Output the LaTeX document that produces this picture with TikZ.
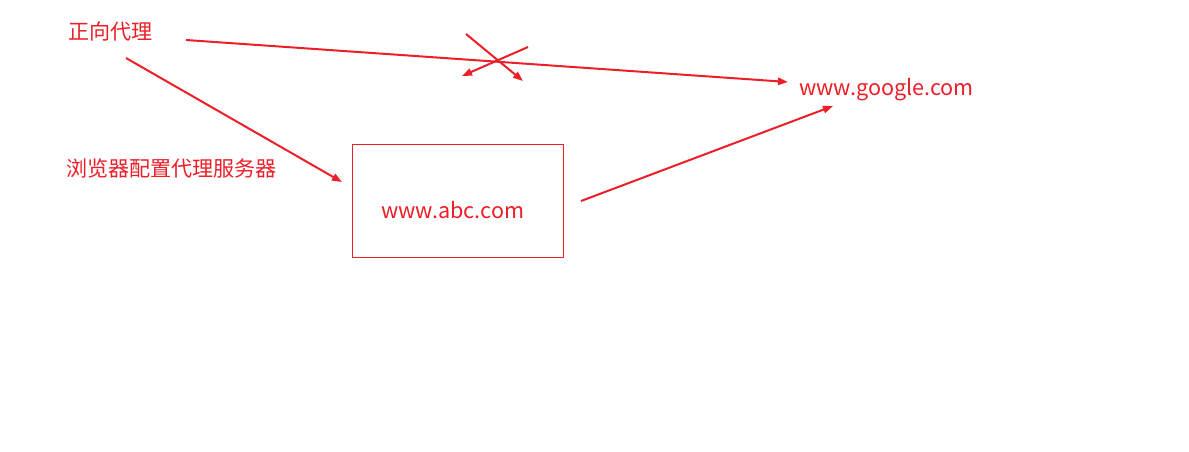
\documentclass[tikz,border=0pt]{standalone}
\usepackage{fontspec}
\setmainfont{Noto Sans CJK SC}
\usetikzlibrary{arrows.meta}
\definecolor{myred}{RGB}{236,30,40}
\begin{document}
\begin{tikzpicture}[x=0.75pt,y=-0.75pt,
  lbl/.style={text=myred,font=\fontsize{15.8pt}{18pt}\selectfont,inner sep=0pt,anchor=west},
  lat/.style={lbl,font=\fontsize{16.2pt}{19pt}\selectfont},
  arr/.style={draw=myred,line width=1.5pt,-{Triangle[length=7.5pt,width=5.5pt]}}]
\useasboundingbox (0,0) rectangle (1189,451);
\node[lbl] (zx) at (68,31) {正向代理};
\node[lbl] (ll) at (66,168) {浏览器配置代理服务器};
\node[lat] (g) at (799,90) {www.google.com};
\node[draw=myred,line width=0.75pt,minimum width=211*0.75pt,minimum height=113*0.75pt,anchor=north west,inner sep=0pt] (box) at (352,144) {};
\node[lat] (abc) at (381,210) {www.abc.com};
\coordinate (a1s) at (186,40);
\coordinate (a1e) at (788,82);
\coordinate (a2s) at (126,58);
\coordinate (a2e) at (342,182);
\coordinate (a3s) at (581,201);
\coordinate (a3e) at (833,106);
\coordinate (c1s) at (466,34);
\coordinate (c1e) at (523,81);
\coordinate (c2s) at (528,47);
\coordinate (c2e) at (462,76);
\draw[arr] (a1s) -- (a1e);
\draw[arr] (a2s) -- (a2e);
\draw[arr] (a3s) -- (a3e);
\draw[arr] (c1s) -- (c1e);
\draw[arr] (c2s) -- (c2e);
\end{tikzpicture}
\end{document}
